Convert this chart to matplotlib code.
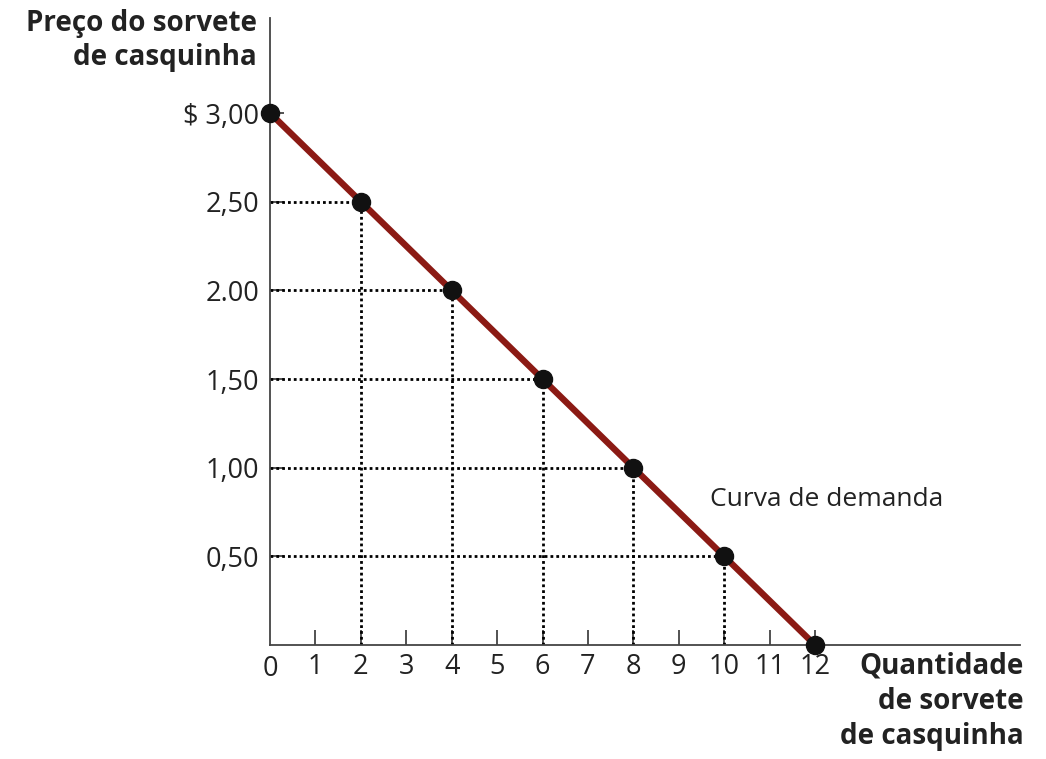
import matplotlib
matplotlib.use("Agg")
import matplotlib.pyplot as plt

quantities = [0, 2, 4, 6, 8, 10, 12]
prices = [3.00, 2.50, 2.00, 1.50, 1.00, 0.50, 0.00]
x_ticks = list(range(0, 13))
x_tick_labels = [str(v) for v in x_ticks]
y_ticks = [0.50, 1.00, 1.50, 2.00, 2.50, 3.00]
y_tick_labels = ["0,50", "1,00", "1,50", "2.00", "2,50", "$ 3,00"]
curve_label = "Curva de demanda"
y_title = "Preço do sorvete\nde casquinha"
x_title = "Quantidade\nde sorvete\nde casquinha"

plt.rcParams['font.family'] = ['Open Sans', 'DejaVu Sans']

W, H = 1046, 759
fig = plt.figure(figsize=(W / 100, H / 100), dpi=100)
x0, y0 = 270, 645
x1, ytop = 1020, 18
ax = fig.add_axes([x0 / W, (H - y0) / H, (x1 - x0) / W, (y0 - ytop) / H])
xunit = (815 - 270) / 12
yunit = (645 - 113) / 3
ax.set_xlim(0, (x1 - x0) / xunit)
ax.set_ylim(0, (y0 - ytop) / yunit)

for s in ["top", "right"]:
    ax.spines[s].set_visible(False)
for s in ["left", "bottom"]:
    ax.spines[s].set_color("#444444")
    ax.spines[s].set_linewidth(1.3)

# dotted guide lines
for q, p in zip(quantities, prices):
    if q > 0 and p > 0:
        ax.plot([0, q], [p, p], color="black", lw=2.0, ls=(0, (1, 1.1)), zorder=2)
        ax.plot([q, q], [0, p], color="black", lw=2.0, ls=(0, (1, 1.1)), zorder=2)

ax.plot(quantities, prices, color="#8b1a14", lw=4.6, zorder=3, solid_capstyle="butt")
ax.plot(quantities, prices, "o", color="#111111", ms=13, zorder=4, clip_on=False)

ax.set_xticks(x_ticks[1:])
ax.set_xticklabels(x_tick_labels[1:])
ax.set_yticks(y_ticks)
ax.set_yticklabels(y_tick_labels)
ax.tick_params(axis="x", direction="in", length=11, width=1.3, color="#444444",
               labelsize=19.5, labelcolor="#222222", pad=6)
ax.tick_params(axis="y", direction="in", length=10, width=1.3, color="#444444",
               labelsize=19.5, labelcolor="#222222", pad=8)
ax.annotate("0", xy=(0, 0), xycoords="data", xytext=(0, -6 - 1.3), textcoords="offset points",
            ha="center", va="top", fontsize=19.5, color="#222222")

ax.text(9.68, 0.82, curve_label, fontsize=19, color="#222222", ha="left", va="center")

fig.text(257 / W, 1 - 9 / H, y_title, ha="right", va="top", fontsize=20,
         fontweight="bold", color="#222222", linespacing=1.25)
fig.text(1024 / W, 1 - 652 / H, x_title, ha="right", va="top", fontsize=20,
         fontweight="bold", color="#222222", linespacing=1.28)

fig.savefig("out.png", dpi=100)
